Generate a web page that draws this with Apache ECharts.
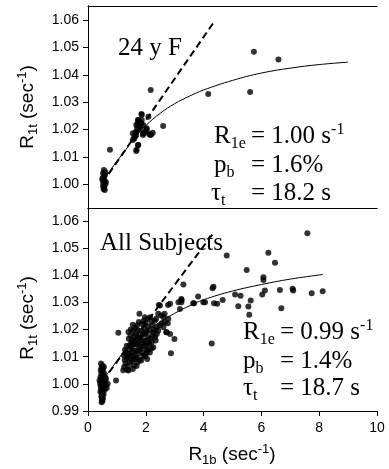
<!DOCTYPE html>
<html><head><meta charset="utf-8">
<script src="https://cdn.jsdelivr.net/npm/echarts@6/dist/echarts.min.js"></script>
<style>html,body{margin:0;padding:0;background:#fff}#c{width:389px;height:469px}</style>
</head><body><div id="c"></div>
<script>
// ---- data: top panel (24 y F) ----
const topR1b = [0.55,0.60,0.52,0.58,0.55,0.50,0.57,0.53,0.60,0.52,0.56,0.54,0.58,0.62,0.50,
  0.76,
  1.55,1.55,1.62,1.68,1.70,1.72,1.74,1.86,1.86,1.91,1.91,2.03,2.09,2.03,1.90,2.15,2.24,1.80,2.19,1.85,1.73,1.78,1.67,1.84,2.13,2.02,1.61,1.67,1.73,1.67,1.68,1.74,1.60,1.65,1.78,1.95,1.98,
  2.17,2.60,4.16,5.61,5.74,6.59];
const topR1t = [1.0052,1.0045,1.0040,1.0033,1.0027,1.0016,1.0012,1.0005,1.0000,0.9994,0.9988,0.9982,0.9979,1.0008,1.0022,
  1.0126,
  1.0162,1.0187,1.0174,1.0192,1.0205,1.0223,1.0235,1.0254,1.0235,1.0217,1.0187,1.0205,1.0247,1.0196,1.0180,1.0180,1.0189,1.0210,1.0182,1.0257,1.0235,1.0229,1.0217,1.0223,1.0183,1.0201,1.0174,1.0180,1.0144,1.0122,1.0126,1.0144,1.0168,1.0190,1.0200,1.0187,1.0193,
  1.0345,1.0213,1.0330,1.0338,1.0485,1.0457];
const topFitR1b = [0.5,0.8,1.0,1.3,1.6,2.0,2.5,3.0,3.5,4.0,5.0,6.0,7.0,8.0,9.0];
const topFitR1t = [1.001,1.0055,1.0085,1.0125,1.017,1.0215,1.026,1.0295,1.0322,1.0345,1.038,1.0407,1.0425,1.0438,1.0447];
const topDashR1b = [0.5,4.4];
const topDashR1t = [1.0005,1.0600];

// ---- data: bottom panel (All Subjects) ----
const allR1b = [0.45,0.50,0.47,0.52,0.44,0.49,0.55,0.46,0.51,0.58,0.43,0.48,0.53,0.60,0.45,0.50,0.56,0.42,0.47,0.52,0.62,0.44,0.49,0.55,0.46,0.51,0.58,0.43,0.48,0.54,0.50,0.46,0.52,0.48,0.50,0.47,0.65,0.68,0.40,0.55,0.62,
  0.97,1.05,
  1.22,1.25,1.30,1.27,1.33,1.24,1.31,1.28,1.34,1.36,
  1.40,1.38,1.45,1.42,1.48,1.40,1.46,1.43,1.49,1.41,1.47,1.40,1.48,
  1.55,1.59,1.52,1.62,1.57,1.54,1.63,1.51,1.58,1.61,1.53,1.60,1.56,1.64,1.55,
  1.68,1.72,1.78,1.66,1.74,1.70,1.77,1.68,1.75,1.71,1.79,1.66,1.73,1.69,1.76,1.78,
  1.84,1.92,1.88,1.82,1.90,1.86,1.93,1.81,1.89,1.85,1.86,1.92,1.94,
  2.05,1.97,2.02,2.08,1.98,2.06,2.03,2.00,2.09,1.97,2.03,2.07,1.99,2.05,1.97,
  2.14,2.20,2.26,2.12,2.20,2.15,2.23,2.26,2.13,2.22,2.15,2.20,
  2.32,2.38,2.30,2.38,2.34,2.43,2.36,2.31,
  2.49,2.61,2.78,2.66,2.55,2.43,2.61,2.49,2.84,2.72,2.84,2.99,2.87,2.65,2.54,2.76,2.71,2.45,2.77,
  3.13,3.18,3.30,3.24,3.23,3.23,3.64,3.67,3.81,3.99,4.05,4.28,4.31,4.34,4.36,4.47,4.66,4.80,
  5.09,5.20,5.28,5.49,5.55,5.58,5.63,6.03,6.07,6.07,6.12,6.24,6.47,6.64,6.69,7.08,7.10,7.59,7.74,8.12];
const allR1t = [1.0075,1.0068,1.0060,1.0055,1.0050,1.0045,1.0040,1.0036,1.0030,1.0028,1.0024,1.0020,1.0016,1.0014,1.0010,1.0006,1.0003,1.0000,0.9996,0.9993,0.9995,0.9989,0.9985,0.9982,0.9978,0.9975,0.9978,0.9971,0.9967,0.9963,0.9958,0.9953,0.9948,0.9943,0.9937,0.9932,0.9985,1.0000,1.0012,1.0062,1.0020,
  1.0012,1.0188,
  1.0050,1.0062,1.0075,1.0088,1.0096,1.0105,1.0115,1.0126,1.0140,1.0052,
  1.0049,1.0066,1.0080,1.0094,1.0104,1.0112,1.0126,1.0140,1.0153,1.0166,1.0178,1.0191,1.0200,
  1.0055,1.0068,1.0084,1.0092,1.0104,1.0116,1.0123,1.0135,1.0146,1.0156,1.0162,1.0175,1.0196,1.0206,1.0218,
  1.0066,1.0080,1.0089,1.0098,1.0110,1.0121,1.0134,1.0145,1.0152,1.0165,1.0172,1.0184,1.0198,1.0215,1.0228,1.0258,
  1.0086,1.0104,1.0116,1.0128,1.0138,1.0150,1.0160,1.0170,1.0182,1.0196,1.0221,1.0232,1.0205,
  1.0092,1.0101,1.0113,1.0126,1.0140,1.0147,1.0123,1.0160,1.0172,1.0184,1.0190,1.0212,1.0225,1.0239,1.0245,
  1.0116,1.0130,1.0135,1.0148,1.0153,1.0165,1.0178,1.0190,1.0198,1.0215,1.0245,1.0231,
  1.0172,1.0184,1.0200,1.0209,1.0160,1.0196,1.0240,1.0233,
  1.0215,1.0209,1.0240,1.0227,1.0223,1.0258,1.0245,1.0289,1.0295,1.0190,1.0184,1.0165,1.0113,1.0258,1.0252,1.0223,1.0190,1.0291,1.0291,
  1.0301,1.0276,1.0366,1.0309,1.0301,1.0313,1.0297,1.0297,1.0322,1.0301,1.0301,1.0149,1.0352,1.0358,1.0297,1.0295,1.0309,1.0473,
  1.0329,1.0286,1.0325,1.0420,1.0285,1.0255,1.0307,1.0329,1.0393,1.0383,1.0344,1.0483,1.0446,1.0346,1.0279,1.0350,1.0344,1.0555,1.0334,1.0341];
const allFitR1b = [0.5,0.8,1.0,1.5,2.0,2.5,3.0,3.5,4.0,5.0,6.0,7.0,8.13];
const allFitR1t = [1.0015,1.0055,1.0085,1.015,1.0195,1.0228,1.026,1.0287,1.031,1.0342,1.0366,1.0386,1.0403];
const allDashR1b = [0.5,4.35];
const allDashR1t = [1.0010,1.0557];

// ---- tick labels ----
const xTicks = [0,2,4,6,8,10];
const yTicksTop = [1.00,1.01,1.02,1.03,1.04,1.05,1.06];
const yTicksAll = [0.99,1.00,1.01,1.02,1.03,1.04,1.05,1.06];

const zip = (a,b) => a.map((v,i) => [v,b[i]]);
const SANS = 'Liberation Sans', SERIF = 'Liberation Serif';
const sansRich = {
  m:{fontFamily:SANS,fontSize:19,lineHeight:24,verticalAlign:'middle',color:'#000'},
  s:{fontFamily:SANS,fontSize:13,lineHeight:13,verticalAlign:'bottom',color:'#000'},
  u:{fontFamily:SANS,fontSize:13,lineHeight:13,verticalAlign:'top',color:'#000'}
};
const yName = '{m|R}{s|1t}{m| (sec}{u|-1}{m|)}';
const xName = '{m|R}{s|1b}{m| (sec}{u|-1}{m|)}';
const lineAx = {show:true,lineStyle:{color:'#000',width:1}};
const fmt = v => Number(v).toFixed(2);
const labStyle = {fontFamily:SANS,fontSize:14,color:'#000'};

const chart = echarts.init(document.getElementById('c'));
const serifRich = {
  m:{fontFamily:SERIF,fontSize:25,lineHeight:30,verticalAlign:'middle',color:'#000'},
  s:{fontFamily:SERIF,fontSize:16,lineHeight:16,verticalAlign:'bottom',color:'#000'},
  u:{fontFamily:SERIF,fontSize:16,lineHeight:16,verticalAlign:'top',color:'#000'}
};
function txt(x,y,t){
  return {type:'text',x:x,y:y,z:100,style:{text:t,rich:serifRich,verticalAlign:'middle',align:'left',fill:'#000',fontSize:25,fontFamily:SERIF}};
}
function axTitle(x,y,t,rot){
  return {type:'text',x:x,y:y,rotation:rot,z:100,style:{text:t,rich:sansRich,verticalAlign:'middle',align:'center',fill:'#000',fontSize:19,fontFamily:SANS}};
}
chart.setOption({
  animation:false,
  backgroundColor:'#fff',
  grid:[
    {left:88,top:6,width:289,height:202,show:false},
    {left:88,top:208,width:289,height:203,show:false}
  ],
  xAxis:[
    {gridIndex:0,type:'value',min:0,max:10,position:'bottom',axisLine:lineAx,axisTick:{show:false},axisLabel:{show:false},splitLine:{show:false}},
    {gridIndex:0,type:'value',min:0,max:10,position:'top',axisLine:lineAx,axisTick:{show:false},axisLabel:{show:false},splitLine:{show:false}},
    {gridIndex:1,type:'value',min:0,max:10,interval:2,position:'bottom',axisLine:lineAx,
      axisTick:{show:true,length:5,lineStyle:{color:'#000'}},
      axisLabel:Object.assign({margin:10,customValues:xTicks},labStyle),splitLine:{show:false}},
    {gridIndex:1,type:'value',min:0,max:10,position:'top',axisLine:lineAx,axisTick:{show:false},axisLabel:{show:false},splitLine:{show:false}}
  ],
  yAxis:[
    {gridIndex:0,type:'value',min:0.99133,max:1.06523,position:'left',axisLine:lineAx,
      axisTick:{show:true,length:5,customValues:yTicksTop,lineStyle:{color:'#000'}},
      axisLabel:Object.assign({margin:9,customValues:yTicksTop,formatter:fmt},labStyle),splitLine:{show:false}},
    {gridIndex:0,type:'value',min:0.99133,max:1.06523,position:'right',axisLine:lineAx,axisTick:{show:false},axisLabel:{show:false},splitLine:{show:false}},
    {gridIndex:1,type:'value',min:0.99,max:1.0648,position:'left',axisLine:lineAx,
      axisTick:{show:true,length:5,customValues:yTicksAll,lineStyle:{color:'#000'}},
      axisLabel:Object.assign({margin:9,customValues:yTicksAll,formatter:fmt},labStyle),splitLine:{show:false}},
    {gridIndex:1,type:'value',min:0.99,max:1.0648,position:'right',axisLine:lineAx,axisTick:{show:false},axisLabel:{show:false},splitLine:{show:false}}
  ],
  series:[
    {type:'scatter',xAxisIndex:0,yAxisIndex:0,data:zip(topR1b,topR1t),symbolSize:6,itemStyle:{color:'#000'},z:2},
    {type:'line',xAxisIndex:0,yAxisIndex:0,data:zip(topFitR1b,topFitR1t),smooth:0.4,showSymbol:false,lineStyle:{color:'#000',width:1},z:3},
    {type:'line',xAxisIndex:0,yAxisIndex:0,data:zip(topDashR1b,topDashR1t),showSymbol:false,lineStyle:{color:'#000',width:2,type:[7,4]},z:3},
    {type:'scatter',xAxisIndex:2,yAxisIndex:2,data:zip(allR1b,allR1t),symbolSize:6,itemStyle:{color:'#000'},z:2},
    {type:'line',xAxisIndex:2,yAxisIndex:2,data:zip(allFitR1b,allFitR1t),smooth:0.4,showSymbol:false,lineStyle:{color:'#000',width:1},z:3},
    {type:'line',xAxisIndex:2,yAxisIndex:2,data:zip(allDashR1b,allDashR1t),showSymbol:false,lineStyle:{color:'#000',width:2,type:[7,4]},z:3}
  ],
  graphic:[
    axTitle(28,107,yName,Math.PI/2),
    axTitle(28,318,yName,Math.PI/2),
    axTitle(232,455,xName,0),
    txt(118,48.6,'{m|24 y F}'),
    txt(214,136.6,'{m|R}{s|1e}'), txt(251,136.6,'{m|= 1.00 s}{u|-1}'),
    txt(214,165.6,'{m|p}{s|b}'),  txt(251,165.6,'{m|= 1.6%}'),
    txt(211,193.6,'{m|τ}{s|t}'),  txt(251,193.6,'{m|= 18.2 s}'),
    txt(100,243.6,'{m|All Subjects}'),
    txt(243,332.6,'{m|R}{s|1e}'), txt(280,332.6,'{m|= 0.99 s}{u|-1}'),
    txt(243,361.6,'{m|p}{s|b}'),  txt(280,361.6,'{m|= 1.4%}'),
    txt(243,388.6,'{m|τ}{s|t}'),  txt(280,388.6,'{m|= 18.7 s}')
  ]
});
</script></body></html>
